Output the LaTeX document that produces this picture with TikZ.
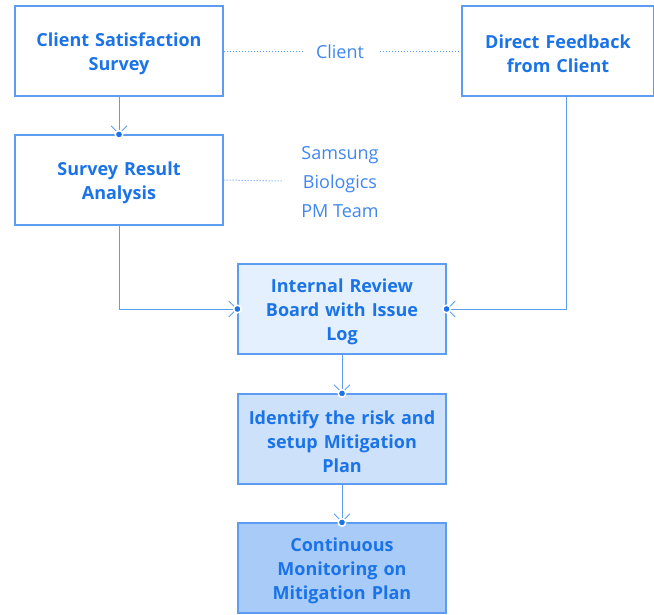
\documentclass[tikz,border=0pt]{standalone}
\usepackage{fontspec}
\setmainfont{Open Sans}
\usetikzlibrary{arrows.meta,positioning}
\definecolor{txtblue}{HTML}{1A73E8}
\definecolor{lblblue}{HTML}{3F86F0}
\definecolor{edgeblue}{HTML}{5C9DF2}
\definecolor{fillA}{HTML}{E4F0FD}
\definecolor{fillB}{HTML}{CDE1FB}
\definecolor{fillC}{HTML}{A9CBF8}
\begin{document}
\begin{tikzpicture}[x=1pt,y=-1pt,
  box/.style={draw=edgeblue,line width=1.2pt,fill=white,minimum width=208pt,minimum height=90pt,
    inner sep=0pt,align=center,text width=204pt,font=\fontsize{18}{24}\selectfont\bfseries,text=txtblue,
    execute at begin node={\rule{0pt}{20pt}}},
  lbl/.style={font=\fontsize{18}{29}\selectfont,text=lblblue,align=center},
  conn/.style={draw=edgeblue,line width=1pt,-{Straight Barb[length=8pt,width=16pt,line width=0.9pt]}},
  dots/.style={draw=edgeblue,line width=1pt,dotted},
  enddot/.style={circle,fill=txtblue,draw=white,line width=1.5pt,minimum size=7.5pt,inner sep=0pt}]
\useasboundingbox (0,0) rectangle (654,614);
\node[box] (css) at (119,51) {Client Satisfaction\\Survey};
\node[box,minimum width=192pt,text width=188pt] (dfc) at (558,51) {Direct Feedback\\from Client};
\node[box] (sra) at (119,180) {Survey Result\\Analysis};
\node[box,fill=fillA] (irb) at (342,309) {Internal Review\\Board with Issue\\Log};
\node[box,fill=fillB] (irs) at (342,439) {Identify the risk and\\setup Mitigation\\Plan};
\node[box,fill=fillC] (cmp) at (342,568) {Continuous\\Monitoring on\\Mitigation Plan};
\node[lbl] (cli) at (340,52) {Client};
\node[lbl] (sbp) at (340,182) {Samsung\\Biologics\\PM Team};
\coordinate (c1) at (302,51);
\coordinate (c2) at (380,51);
\coordinate (c3) at (283,181);
\draw[dots] (css.east) -- (c1);
\draw[dots] (c2) -- (dfc.west);
\draw[dots] (sra.east) -- (c3);
\draw[conn] (css.south) -- (sra.north);
\draw[conn] (sra.south) |- (irb.west);
\draw[conn] (dfc.south -| 566,0) |- (irb.east);
\draw[conn] (irb.south) -- (irs.north);
\draw[conn] (irs.south) -- (cmp.north);
\node[enddot] at (sra.north) {};
\node[enddot] at (irb.west) {};
\node[enddot] at (irb.east) {};
\node[enddot] at (irs.north) {};
\node[enddot] at (cmp.north) {};
\end{tikzpicture}
\end{document}
